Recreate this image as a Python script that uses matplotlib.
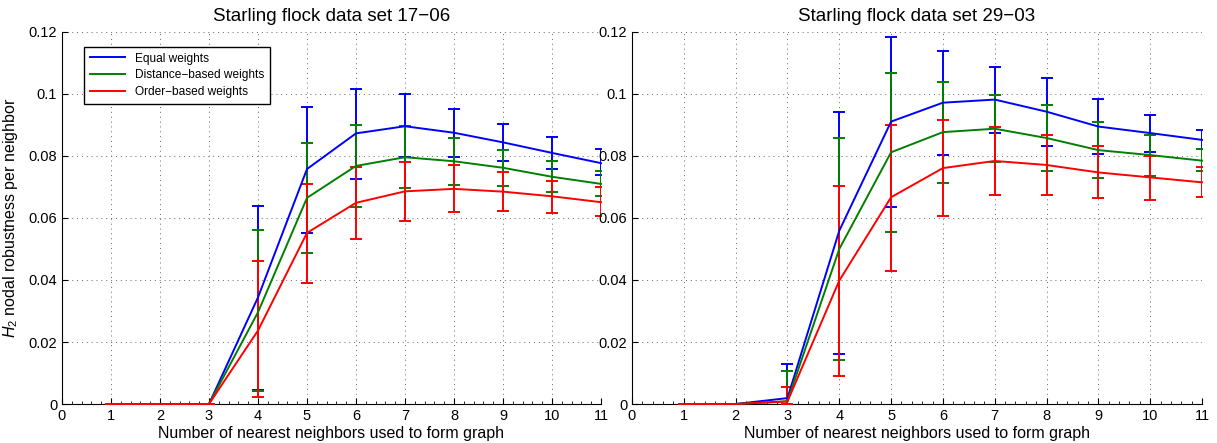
import matplotlib
matplotlib.use("Agg")
import matplotlib.pyplot as plt
import numpy as np
from matplotlib.lines import Line2D
from matplotlib.ticker import MultipleLocator, FuncFormatter

plt.rcParams['font.family'] = ['Liberation Sans', 'DejaVu Sans']
plt.rcParams['mathtext.fontset'] = 'custom'
plt.rcParams['mathtext.rm'] = 'Liberation Sans'
plt.rcParams['mathtext.it'] = 'Liberation Sans:italic'

# ── Data ────────────────────────────────────────────────
k = [1, 2, 3, 4, 5, 6, 7, 8, 9, 10, 11]
titles = ["Starling flock data set 17\u221206", "Starling flock data set 29\u221203"]
labels = ["Equal weights", "Distance\u2212based weights", "Order\u2212based weights"]
colors = ["#0000ff", "#008000", "#ff0000"]

# set 17-06: mean, upper end, lower end
eq_1706 = [0, 0, 0, 0.0344, 0.0758, 0.0873, 0.0896, 0.0875, 0.0844, 0.0810, 0.0777]
eq_1706_hi = [0, 0, 0, 0.0638, 0.0959, 0.1017, 0.1000, 0.0952, 0.0903, 0.0860, 0.0822]
eq_1706_lo = [0, 0, 0, 0.0045, 0.0552, 0.0727, 0.0798, 0.0798, 0.0785, 0.0758, 0.0740]
di_1706 = [0, 0, 0, 0.0296, 0.0665, 0.0768, 0.0796, 0.0783, 0.0762, 0.0733, 0.0710]
di_1706_hi = [0, 0, 0, 0.0562, 0.0841, 0.0900, 0.0896, 0.0857, 0.0819, 0.0785, 0.0752]
di_1706_lo = [0, 0, 0, 0.0041, 0.0486, 0.0637, 0.0697, 0.0708, 0.0704, 0.0685, 0.0671]
or_1706 = [0, 0, 0, 0.0237, 0.0552, 0.0649, 0.0686, 0.0694, 0.0685, 0.0670, 0.0651]
or_1706_hi = [0, 0, 0, 0.0460, 0.0710, 0.0766, 0.0782, 0.0770, 0.0747, 0.0720, 0.0700]
or_1706_lo = [0, 0, 0, 0.0022, 0.0390, 0.0533, 0.0591, 0.0618, 0.0624, 0.0617, 0.0606]

# set 29-03
eq_2903 = [0, 0, 0.0019, 0.0559, 0.0911, 0.0972, 0.0982, 0.0943, 0.0895, 0.0874, 0.0852]
eq_2903_hi = [0, 0, 0.0128, 0.0943, 0.1185, 0.1140, 0.1087, 0.1052, 0.0985, 0.0933, 0.0884]
eq_2903_lo = [0, 0, 0, 0.0161, 0.0634, 0.0802, 0.0875, 0.0833, 0.0806, 0.0814, 0.0822]
di_2903 = [0, 0, 0.0009, 0.0500, 0.0812, 0.0877, 0.0888, 0.0858, 0.0819, 0.0803, 0.0785]
di_2903_hi = [0, 0, 0.0105, 0.0857, 0.1067, 0.1039, 0.0997, 0.0966, 0.0909, 0.0868, 0.0823]
di_2903_lo = [0, 0, 0, 0.0142, 0.0556, 0.0714, 0.0782, 0.0753, 0.0730, 0.0734, 0.0752]
or_2903 = [0, 0, 0.0008, 0.0398, 0.0667, 0.0761, 0.0784, 0.0771, 0.0747, 0.0731, 0.0715]
or_2903_hi = [0, 0, 0.0054, 0.0702, 0.0901, 0.0916, 0.0895, 0.0869, 0.0833, 0.0801, 0.0766]
or_2903_lo = [0, 0, 0, 0.0090, 0.0429, 0.0605, 0.0674, 0.0673, 0.0663, 0.0659, 0.0668]

sets = [
    [(eq_1706, eq_1706_lo, eq_1706_hi), (di_1706, di_1706_lo, di_1706_hi), (or_1706, or_1706_lo, or_1706_hi)],
    [(eq_2903, eq_2903_lo, eq_2903_hi), (di_2903, di_2903_lo, di_2903_hi), (or_2903, or_2903_lo, or_2903_hi)],
]

# ── Grafik ──────────────────────────────────────────────
fig = plt.figure(figsize=(12.17, 4.43), dpi=100)
ax_l = fig.add_axes([62 / 1217, 39 / 443, 539 / 1217, 372 / 443])
ax_r = fig.add_axes([632 / 1217, 39 / 443, 570 / 1217, 372 / 443])

fmt = FuncFormatter(lambda v, p: "0" if abs(v) < 1e-9 else ("%g" % round(v, 4)))

for ax, data, title in zip([ax_l, ax_r], sets, titles):
    for (m, lo, hi), c in zip(data, colors):
        m = np.array(m)
        err = [m - np.array(lo), np.array(hi) - m]
        eb = ax.errorbar(k, m, yerr=err, color=c, lw=1.4, elinewidth=1.4,
                         capsize=4, capthick=1.4, zorder=3)
        # garis utama tidak dipotong di tepi sumbu (seperti MATLAB)
        eb[0].set_clip_on(False)
    ax.set_xlim(0, 11)
    ax.set_ylim(0, 0.12)
    ax.set_xticks(range(0, 12))
    ax.set_yticks(np.arange(0, 0.1201, 0.02))
    ax.yaxis.set_major_formatter(fmt)
    ax.xaxis.set_minor_locator(MultipleLocator(0.2))
    ax.tick_params(direction="in", length=4, labelsize=10.5, width=0.8)
    ax.tick_params(axis="x", which="minor", direction="in", length=2, width=0.6)
    ax.spines["top"].set_visible(False)
    ax.spines["right"].set_visible(False)
    ax.grid(True, linestyle=(0, (1, 4)), color="#666666", linewidth=0.7)
    ax.set_axisbelow(True)
    ax.set_title(title, fontsize=13.5, pad=8)
    ax.set_xlabel("Number of nearest neighbors used to form graph", fontsize=11.5, labelpad=2)

ax_l.set_ylabel("$H_2$ nodal robustness per neighbor", fontsize=11.5, labelpad=6)
handles = [Line2D([], [], color=c, lw=1.4) for c in colors]
leg = ax_l.legend(handles, labels, loc="upper left", bbox_to_anchor=(0.03, 0.975),
                  fontsize=8.6, fancybox=False, edgecolor="black", framealpha=1,
                  handlelength=3.0, borderpad=0.45, labelspacing=0.4)
leg.get_frame().set_linewidth(1.0)

plt.savefig("out.png", dpi=100)
